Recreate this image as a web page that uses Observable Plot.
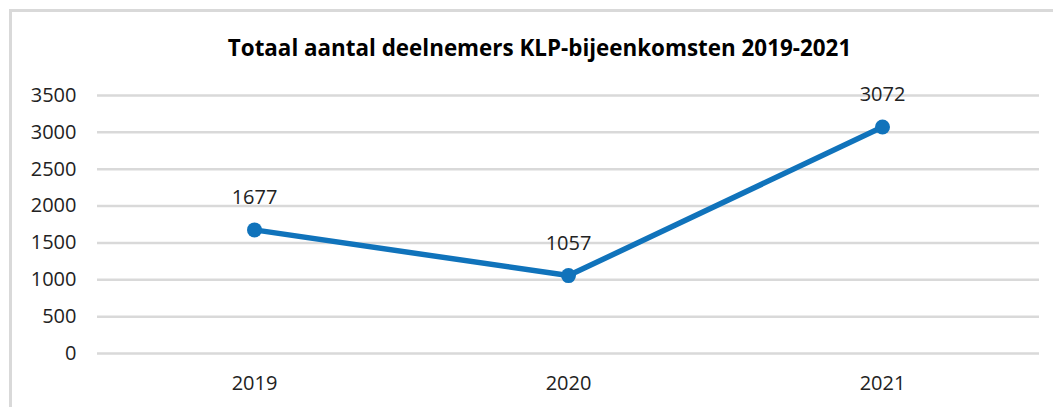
<!DOCTYPE html>
<html>
<head>
<meta charset="utf-8">
<script src="https://cdn.jsdelivr.net/npm/d3@7"></script>
<script src="https://cdn.jsdelivr.net/npm/@observablehq/plot@0.6"></script>
<style>
  html, body { margin: 0; padding: 0; background: #fff; }
  #wrap { position: relative; width: 1053px; height: 407px; overflow: hidden; }
  #border { position: absolute; left: 9px; top: 9px; width: 1100px; height: 500px; border: 3px solid #d9d9d9; box-sizing: border-box; }
  #chart { position: absolute; left: 0; top: 0; }
</style>
</head>
<body>
<div id="wrap"><div id="border"></div><div id="chart"></div></div>
<script>
const years = ["2019", "2020", "2021"];
const participants = [1677, 1057, 3072];
const yTicks = [0, 500, 1000, 1500, 2000, 2500, 3000, 3500];
const title = "Totaal aantal deelnemers KLP-bijeenkomsten 2019-2021";

const data = years.map((y, i) => ({year: y, value: participants[i]}));
const blue = "#1073bb";
const font = "'Open Sans', sans-serif";

const chart = Plot.plot({
  width: 1053,
  height: 407,
  marginLeft: 97,
  marginRight: 14,
  marginTop: 95,
  marginBottom: 54,
  style: {fontFamily: font, fontSize: "20px", color: "#222", background: "transparent"},
  x: {type: "point", domain: years, padding: 0.5, label: null},
  y: {domain: [0, 3500], label: null},
  marks: [
    Plot.ruleY(yTicks, {stroke: "#d9d9d9", strokeWidth: 2.5}),
    Plot.axisY(yTicks, {tickSize: 0, tickPadding: 21, label: null, fontSize: 20, tickFormat: d => String(d)}),
    Plot.axisX({tickSize: 0, tickPadding: 22, label: null, fontSize: 20}),
    Plot.line(data, {x: "year", y: "value", stroke: blue, strokeWidth: 5.5}),
    Plot.dot(data, {x: "year", y: "value", fill: blue, r: 7.5}),
    Plot.text(data, {x: "year", y: "value", text: d => String(d.value), dy: -32, fontSize: 20, fill: "#222"}),
    Plot.text([title], {frameAnchor: "top", dy: -55, dx: -29, fontSize: 22.4, fontWeight: "bold", fill: "#000", text: d => d})
  ]
});
document.getElementById("chart").appendChild(chart);
</script>
</body>
</html>
